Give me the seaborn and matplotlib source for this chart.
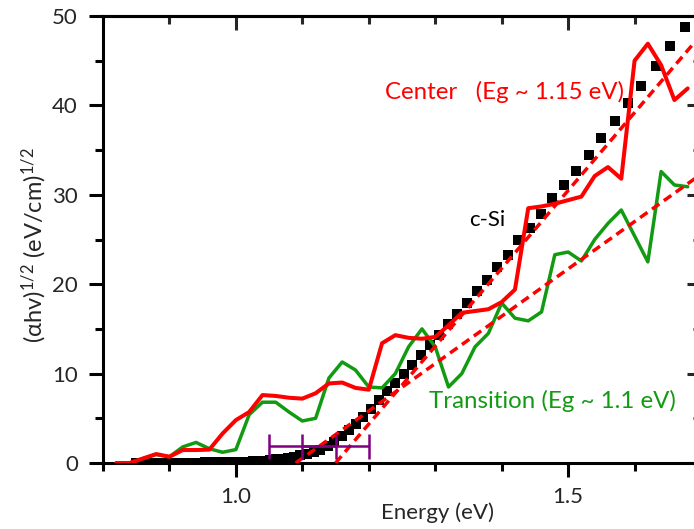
import matplotlib
matplotlib.use('Agg')
import matplotlib.pyplot as plt
import seaborn as sns
from matplotlib.ticker import MultipleLocator

# ---------------- data ----------------
# c-Si reference (black squares)
csi_energy = [1.676, 1.653, 1.632, 1.610, 1.590, 1.570, 1.550, 1.531, 1.512, 1.494,
              1.476, 1.459, 1.442, 1.425, 1.409, 1.393, 1.378, 1.363, 1.348, 1.333,
              1.319, 1.305, 1.292, 1.278, 1.265, 1.253, 1.240, 1.228, 1.216, 1.204,
              1.192, 1.181, 1.170, 1.159, 1.148, 1.138, 1.127, 1.117, 1.107, 1.097,
              1.088, 1.078, 1.069, 1.060, 1.051, 1.042, 1.033, 1.025, 1.016, 1.008,
              1.000, 0.992, 0.984, 0.976, 0.969, 0.961, 0.954, 0.947, 0.939, 0.932,
              0.925, 0.919, 0.912, 0.905, 0.899, 0.892, 0.886, 0.879, 0.873, 0.867,
              0.861, 0.855, 0.849]
csi_value = [48.8, 46.6, 44.4, 42.2, 40.3, 38.3, 36.4, 34.5, 32.7, 31.1,
             29.6, 27.9, 26.3, 24.9, 23.3, 21.9, 20.5, 19.2, 17.9, 16.7,
             15.5, 14.3, 13.2, 12.1, 11.0, 10.0, 9.0, 8.0, 7.0, 6.0,
             5.2, 4.4, 3.7, 3.0, 2.4, 1.9, 1.5, 1.25, 1.05, 0.85,
             0.7, 0.58, 0.48, 0.4, 0.32, 0.26, 0.2, 0.17, 0.14, 0.12,
             0.1, 0.09, 0.08, 0.08, 0.07, 0.06, 0.06, 0.05, 0.05, 0.04,
             0.04, 0.04, 0.03, 0.03, 0.03, 0.02, 0.02, 0.02, 0.02, 0.01,
             0.01, 0.01, 0.01]

# Measured spectra (Center = red, Transition = green)
energy = [0.82, 0.84, 0.86, 0.88, 0.90, 0.92, 0.94, 0.96, 0.98, 1.00,
          1.02, 1.04, 1.06, 1.08, 1.10, 1.12, 1.14, 1.16, 1.18, 1.20,
          1.22, 1.24, 1.26, 1.28, 1.30, 1.32, 1.34, 1.36, 1.38, 1.40,
          1.42, 1.44, 1.46, 1.48, 1.50, 1.52, 1.54, 1.56, 1.58, 1.60,
          1.62, 1.64, 1.66, 1.68]
center = [0.0, 0.0, 0.5, 1.0, 0.7, 1.45, 1.45, 1.5, 3.3, 4.8,
          5.7, 7.6, 7.5, 7.3, 7.2, 7.8, 8.9, 9.0, 8.4, 8.2,
          13.4, 14.3, 14.0, 13.9, 14.1, 15.4, 16.8, 17.0, 17.2, 18.0,
          19.4, 28.5, 28.7, 29.0, 29.4, 29.8, 32.1, 33.1, 31.8, 45.0,
          46.9, 44.5, 40.6, 41.9]
transition = [0.0, 0.0, 0.5, 0.95, 0.7, 1.8, 2.3, 1.6, 1.2, 1.5,
              5.4, 6.8, 6.8, 5.7, 4.7, 5.0, 9.5, 11.3, 10.4, 8.5,
              8.4, 10.0, 13.0, 15.0, 13.0, 8.5, 10.0, 13.0, 14.5, 17.9,
              16.2, 15.9, 16.9, 23.3, 23.6, 22.6, 25.0, 26.8, 28.3, 25.4,
              22.5, 32.6, 31.1, 30.9]

# Linear (Tauc) fits, dashed red
fit_center_e = [1.15, 1.70]
fit_center_v = [0.0, 47.9]
fit_trans_e = [1.09, 1.70]
fit_trans_v = [0.0, 32.3]

# Band-gap uncertainty bars (purple)
eg_centers = [1.10, 1.15]
eg_level = [1.9, 1.9]
eg_err = [0.05, 0.05]

x_ticks = [1.0, 1.5]
y_ticks = [0, 10, 20, 30, 40, 50]

# ---------------- style ----------------
sns.set_theme(style='ticks')
plt.rcParams['font.family'] = ['Lato', 'DejaVu Sans']
plt.rcParams['mathtext.fontset'] = 'custom'
plt.rcParams['mathtext.rm'] = 'Lato'
plt.rcParams['mathtext.it'] = 'Lato:italic'
plt.rcParams['mathtext.default'] = 'regular'

RED = '#ff0000'
GREEN = '#129b12'
PURPLE = '#800080'

fig = plt.figure(figsize=(6.94, 5.29), dpi=100)
ax = fig.add_axes([103 / 694, 1 - 463 / 529, 598 / 694, 447 / 529])

sns.scatterplot(x=csi_energy, y=csi_value, marker='s', s=45, color='black',
                linewidth=0, ax=ax, zorder=2, legend=False)
sns.lineplot(x=energy, y=transition, color=GREEN, lw=2.5, ax=ax,
             sort=False, estimator=None, zorder=3)
sns.lineplot(x=energy, y=center, color=RED, lw=2.9, ax=ax,
             sort=False, estimator=None, zorder=4)
sns.lineplot(x=fit_center_e, y=fit_center_v, color=RED, lw=2.5,
             linestyle=(0, (2.6, 1.6)), ax=ax, sort=False, estimator=None, zorder=5)
sns.lineplot(x=fit_trans_e, y=fit_trans_v, color=RED, lw=2.5,
             linestyle=(0, (2.6, 1.6)), ax=ax, sort=False, estimator=None, zorder=5)
ax.errorbar(eg_centers, eg_level, xerr=eg_err, fmt='none', ecolor=PURPLE,
            elinewidth=1.8, capsize=9, capthick=1.8, zorder=6)

ax.set_xlim(0.8, 1.7)
ax.set_ylim(0, 50)
ax.xaxis.set_major_locator(MultipleLocator(0.5))
ax.xaxis.set_minor_locator(MultipleLocator(0.1))
ax.yaxis.set_major_locator(MultipleLocator(10))
ax.yaxis.set_minor_locator(MultipleLocator(5))
ax.set_xticks(x_ticks)
ax.set_yticks(y_ticks)
ax.set_xticklabels([f'{v:.1f}' for v in x_ticks])
ax.set_yticklabels([str(v) for v in y_ticks])

for s in ax.spines.values():
    s.set_linewidth(2.2)
    s.set_color('black')
    s.set_visible(True)

ax.tick_params(axis='both', which='major', direction='out', length=10, width=2.2,
               labelsize=16, color='black', bottom=True, left=True, top=False, right=False)
ax.tick_params(axis='both', which='minor', direction='out', length=5.5, width=2.2,
               color='black', bottom=True, left=True, top=False, right=False)
ax.tick_params(axis='x', which='major', pad=7)
ax.tick_params(axis='y', which='major', pad=8)

secx = ax.secondary_xaxis('top')
secx.xaxis.set_major_locator(MultipleLocator(0.5))
secx.xaxis.set_minor_locator(MultipleLocator(0.1))
secx.tick_params(axis='x', which='major', direction='in', length=10, width=2.2, labeltop=False)
secx.tick_params(axis='x', which='minor', direction='in', length=5.5, width=2.2)
secx.spines['top'].set_linewidth(2.2)

secy = ax.secondary_yaxis('right')
secy.yaxis.set_major_locator(MultipleLocator(10))
secy.yaxis.set_minor_locator(MultipleLocator(5))
secy.tick_params(axis='y', which='major', direction='in', length=10, width=2.2, labelright=False)
secy.tick_params(axis='y', which='minor', direction='in', length=5.5, width=2.2)
secy.spines['right'].set_linewidth(2.2)

ax.set_xlabel('')
ax.set_ylabel('')
fig.text(437 / 694, 1 - 519 / 529, 'Energy (eV)', ha='center', va='baseline', fontsize=16)
fig.text(34 / 694, 1 - 245 / 529, '(αhv)$^{1/2}$ (eV/cm)$^{1/2}$', rotation=90,
         ha='center', va='center', fontsize=17)

ax.text(1.2237, 40.7, 'Center   (Eg ~ 1.15 eV)', color=RED, fontsize=17.3, ha='left', va='baseline')
ax.text(1.351, 26.5, 'c-Si', color='black', fontsize=16, ha='left', va='baseline')
ax.text(1.290, 6.1, 'Transition (Eg ~ 1.1 eV)', color=GREEN, fontsize=17.3, ha='left', va='baseline')

fig.savefig('out.png', dpi=100)
